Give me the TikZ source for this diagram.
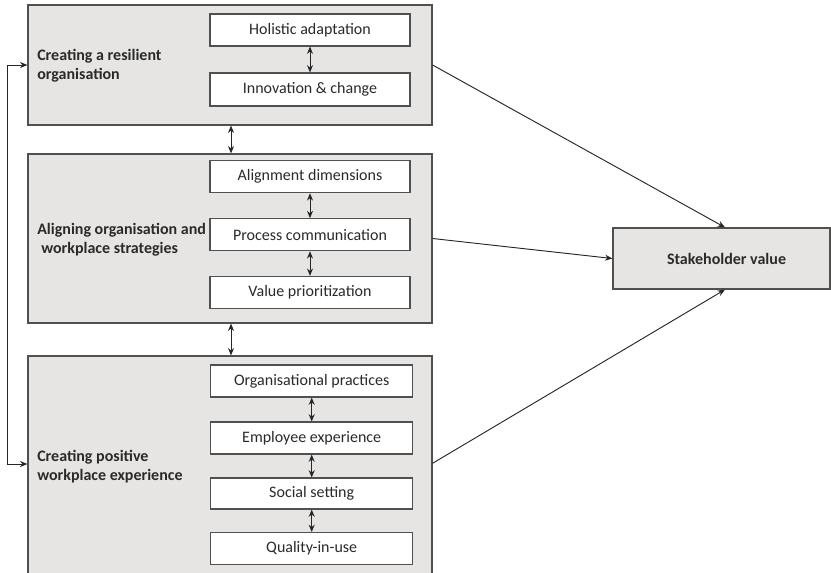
\documentclass[tikz,border=0pt]{standalone}
\usepackage{fontspec}
\setmainfont{Carlito}
\usetikzlibrary{arrows.meta,calc}
\definecolor{boxfill}{HTML}{E6E5E4}
\definecolor{edge}{HTML}{505050}
\definecolor{ink}{HTML}{2A2A2A}
\begin{document}
\begin{tikzpicture}[x=0.75pt,y=-0.75pt,
  group/.style={draw=edge, fill=boxfill, line width=0.9pt, inner sep=0pt, minimum width=303pt},
  item/.style={draw=edge, fill=white, line width=0.8pt, minimum width=150pt, minimum height=24pt, inner sep=0pt, font=\fontsize{12}{14}\selectfont, text=ink},
  lab/.style={align=left, anchor=west, font=\bfseries\fontsize{12}{14.3}\selectfont, text=ink, inner sep=0pt},
  tipx/.tip={Stealth[length=5.5pt,width=4.5pt]},
  link/.style={draw=black!85, line width=0.7pt, -tipx},
  both/.style={draw=black!85, line width=0.7pt, tipx-tipx}]
\useasboundingbox (0,0) rectangle (831,572);
\clip (0,0) rectangle (831,572);
% group boxes
\node[group, minimum height=90pt] (b1) at (230,65) {};
\node[group, minimum height=126.75pt] (b2) at (230,238.5) {};
\node[group, minimum height=187.5pt] (b3) at (230,481) {};
\node[group, minimum width=162.75pt, minimum height=45.75pt, font=\bfseries\fontsize{12}{14}\selectfont, text=ink] (sv) at (721.5,258.5) {\hspace*{7.5pt}Stakeholder value};
% labels
\node[lab] (l1) at (37,65.5) {Creating a resilient\\organisation};
\node[lab] (l2) at (37,240) {Aligning organisation and\\\hspace*{3pt}workplace strategies};
\node[lab] (l3) at (37,467) {Creating positive\\workplace experience};
% inner items
\node[item] (a1) at (310,30) {Holistic adaptation};
\node[item, minimum height=24.75pt] (a2) at (310,89.5) {Innovation \& change};
\node[item] (c1) at (310,176.7) {Alignment dimensions};
\node[item] (c2) at (310,234.7) {Process communication};
\node[item] (c3) at (310,292.4) {Value prioritization};
\node[item, minimum width=151.5pt] (e1) at (311.7,381) {Organisational practices};
\node[item, minimum width=151.5pt] (e2) at (311.7,438) {Employee experience};
\node[item, minimum width=151.5pt, minimum height=23.25pt] (e3) at (311.7,493.5) {Social setting};
\node[item, minimum width=151.5pt] (e4) at (311.7,548.5) {Quality-in-use};
% connectors
\draw[both] (a1) -- (a2);
\draw[both] (c1) -- (c2);
\draw[both] (c2) -- (c3);
\draw[both] (e1) -- (e2);
\draw[both] (e2) -- (e3);
\draw[both] (e3) -- (e4);
\draw[both] ([xshift=0.75pt]b1.south) -- ([xshift=0.75pt]b2.north);
\draw[both] ([xshift=0.75pt]b2.south) -- ([xshift=0.75pt]b3.north);
\draw[both] (b1.west) -- ++(-20,0) |- ([yshift=12.75pt]b3.west);
\draw[link] (b1.east) -- ([xshift=2.6pt]sv.north);
\draw[link] (b2.east) -- (sv.west);
\draw[link] ([yshift=13.3pt]b3.east) -- ([xshift=2.6pt]sv.south);
\end{tikzpicture}
\end{document}
